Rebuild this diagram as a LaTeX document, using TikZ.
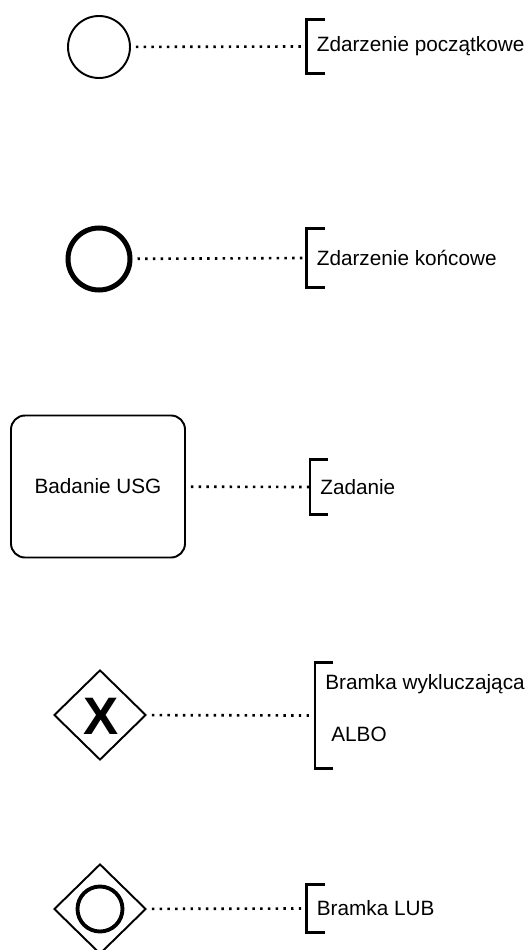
\documentclass[tikz,border=0pt]{standalone}
\usepackage{fontspec}
\setmainfont{Liberation Sans}
\usetikzlibrary{shapes.geometric,positioning}

\begin{document}
\begin{tikzpicture}[
    every node/.style={font=\fontsize{11.8}{14}\selectfont},
    event/.style={draw, circle, minimum size=1.24cm, inner sep=0pt, line width=1.1pt},
    endevent/.style={event, line width=2.85pt},
    task/.style={draw, rectangle, rounded corners=0.28cm, line width=1.1pt,
        minimum width=3.48cm, minimum height=2.84cm},
    gateway/.style={draw, diamond, minimum width=1.84cm, minimum height=1.8cm,
        inner sep=0pt, line width=1.1pt},
    anno/.style={anchor=west, inner xsep=0.2cm, inner ysep=0pt, align=left},
    bracket/.style={line width=1.5pt},
    assoc/.style={line width=1.5pt, dash pattern=on 1.4pt off 3pt, shorten <=0.1cm}
]
    \useasboundingbox (0,0) rectangle (10.62,-19);

    % BPMN elements
    \node[event] (start) at (1.98,-0.94) {};
    \node[endevent] (end) at (1.98,-5.18) {};
    \node[task] (usg) at (1.96,-9.73) {Badanie USG};
    \node[gateway] (xor) at (2.0,-14.3) {};
    \node[font=\fontsize{30}{32}\selectfont\bfseries] (xmark) at (2.02,-14.32) {X};
    \node[gateway] (or) at (2.0,-18.18) {};
    \node[draw, circle, minimum size=0.9cm, inner sep=0pt, line width=2.2pt] (ormark) at (or) {};

    % annotations
    \node[anno, minimum height=1.06cm] (a1) at (6.13,-0.93) {Zdarzenie początkowe};
    \node[anno, minimum height=1.16cm] (a2) at (6.13,-5.16) {Zdarzenie końcowe};
    \node[anno, minimum height=1.08cm] (a3) at (6.2,-9.74) {Zadanie};
    \node[anno, minimum height=2.1cm] (a4) at (6.3,-14.31) {Bramka wykluczająca\\[0.55cm]\hspace{0.12cm}ALBO\\[-0.2cm]\mbox{}};
    \node[anno, minimum height=0.94cm] (a5) at (6.13,-18.17) {Bramka LUB};

    \foreach \n in {a1,a2,a3,a4,a5}
        \draw[bracket] ([xshift=0.36cm]\n.north west) -- (\n.north west) -- (\n.south west) -- ++(0.36,0);

    % associations
    \draw[assoc] (start) -- (a1.west);
    \draw[assoc] (end) -- (a2.west);
    \draw[assoc] (usg) -- (a3.west);
    \draw[assoc] (xor) -- (a4.west);
    \draw[assoc] (or) -- (a5.west);
\end{tikzpicture}
\end{document}
